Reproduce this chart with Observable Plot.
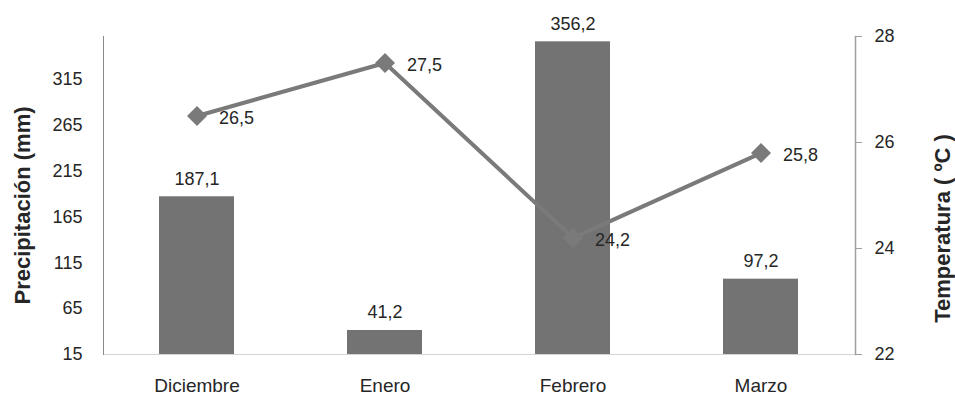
<!DOCTYPE html>
<html>
<head>
<meta charset="utf-8">
<script src="https://cdn.jsdelivr.net/npm/d3@7"></script>
<script src="https://cdn.jsdelivr.net/npm/@observablehq/plot@0.6"></script>
<style>
  html, body { margin: 0; padding: 0; background: #fff; }
</style>
</head>
<body>
<div id="chart"></div>
<script>
const months = ["Diciembre", "Enero", "Febrero", "Marzo"];
const precipitation = [187.1, 41.2, 356.2, 97.2];
const temperature = [26.5, 27.5, 24.2, 25.8];
const precipTicks = [15, 65, 115, 165, 215, 265, 315];
const tempTicks = [22, 24, 26, 28];
const precipDomain = [15, 362];
const tempDomain = [22, 28];

const toY = d3.scaleLinear().domain(tempDomain).range(precipDomain);
const fmt = v => v.toFixed(1).replace(".", ",");

const data = months.map((m, i) => ({month: m, precip: precipitation[i], temp: temperature[i], ty: toY(temperature[i])}));

const font = "'Liberation Sans', Arial, sans-serif";

const chart = Plot.plot({
  width: 955,
  height: 397,
  marginLeft: 103,
  marginRight: 100,
  marginTop: 36,
  marginBottom: 43,
  style: {fontFamily: font, fontSize: "18px", color: "#262626", background: "#fff"},
  x: {domain: months, paddingInner: 0.6, paddingOuter: 0.3, label: null},
  y: {domain: precipDomain, label: null},
  marks: [
    Plot.barY(data, {x: "month", y1: precipDomain[0], y2: "precip", fill: "#737373"}),
    Plot.ruleY([precipDomain[0]], {stroke: "#d4d4d4", strokeWidth: 1.2}),
    Plot.frame({anchor: "left", stroke: "#8a8a8a"}),
    Plot.frame({anchor: "right", stroke: "#a0a0a0", strokeWidth: 1.5}),
    Plot.axisY(precipTicks, {anchor: "left", tickSize: 0, tickPadding: 21, fontSize: 18, label: null, tickFormat: d => d}),
    Plot.axisY(tempTicks.map(t => toY(t)), {anchor: "right", tickSize: 6, tickPadding: 13, stroke: "#a0a0a0", fontSize: 18, label: null, tickFormat: d => Math.round(toY.invert(d))}),
    Plot.axisX({tickSize: 0, tickPadding: 24, fontSize: 19, label: null}),
    Plot.text(data, {x: "month", y: "precip", text: d => fmt(d.precip), dy: -12, lineAnchor: "bottom", fontSize: 18, fill: "#262626"}),
    Plot.line(data, {x: "month", y: "ty", stroke: "#7a7a7a", strokeWidth: 4}),
    Plot.dot(data, {x: "month", y: "ty", symbol: "diamond2", r: 9, fill: "#7a7a7a", stroke: null}),
    Plot.text(data, {x: "month", y: "ty", text: d => fmt(d.temp), dx: 22, dy: 2, textAnchor: "start", fontSize: 18, fill: "#262626"}),
    Plot.text(["Precipitación (mm)"], {frameAnchor: "left", textAnchor: "middle", dx: -81, dy: 10, rotate: -90, fontSize: 22, fontWeight: "bold", fill: "#262626"}),
    Plot.text(["Temperatura ( ºC )"], {frameAnchor: "right", textAnchor: "middle", dx: 87, dy: 33, rotate: -90, fontSize: 22, fontWeight: "bold", fill: "#262626"})
  ]
});
document.getElementById("chart").appendChild(chart);
</script>
</body>
</html>
